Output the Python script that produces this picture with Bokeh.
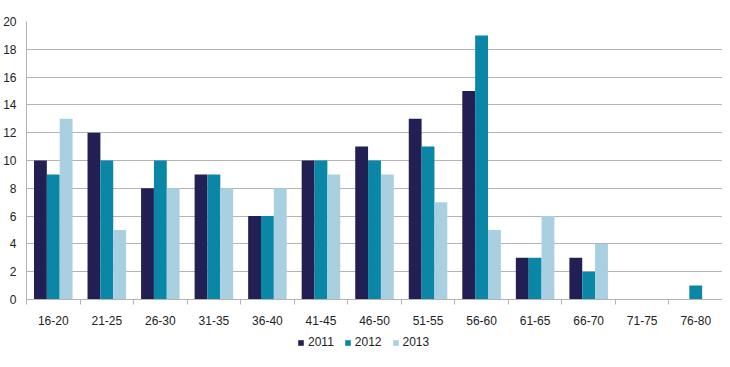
import numpy as np
from bokeh.plotting import figure
from bokeh.layouts import column
from bokeh.models import ColumnDataSource, FixedTicker, Legend, LegendItem, Range1d
from bokeh.transform import dodge
from bokeh.embed import file_html
from bokeh.resources import INLINE

categories = ["16-20", "21-25", "26-30", "31-35", "36-40", "41-45", "46-50",
              "51-55", "56-60", "61-65", "66-70", "71-75", "76-80"]
years = ["2011", "2012", "2013"]
v2011 = [10, 12, 8, 9, 6, 10, 11, 13, 15, 3, 3, 0, 0]
v2012 = [9, 10, 10, 9, 6, 10, 10, 11, 19, 3, 2, 0, 1]
v2013 = [13, 5, 8, 8, 8, 9, 9, 7, 5, 6, 4, 0, 0]
y_ticks = [0, 2, 4, 6, 8, 10, 12, 14, 16, 18, 20]

colors = ["#221f54", "#0a87a7", "#a8d0e1"]
FONT = "Liberation Sans"
TEXT = "#222222"
GRID = "#b4b4b4"

n = len(categories)
centers = np.arange(n) + 0.5
src = ColumnDataSource(dict(x=centers, v2011=v2011, v2012=v2012, v2013=v2013))

p = figure(width=722, height=329, output_backend="svg", toolbar_location=None,
           x_range=Range1d(0, n), y_range=Range1d(0, 20),
           min_border_left=17, min_border_right=0, min_border_top=21,
           min_border_bottom=30)
p.outline_line_color = None
p.background_fill_color = "white"
p.border_fill_color = "white"

bw = 0.24
for i, (yr, col) in enumerate(zip(years, colors)):
    p.vbar(x=dodge("x", (i - 1) * bw), top="v" + yr, width=bw, bottom=0,
           source=src, fill_color=col, line_color=None)

# x axis
xa = p.xaxis[0]
xa.ticker = FixedTicker(ticks=list(centers), minor_ticks=list(np.arange(n + 1)))
xa.major_label_overrides = {float(c): lab for c, lab in zip(centers, categories)}
xa.major_tick_line_color = None
xa.minor_tick_out = 5
xa.minor_tick_in = 0
xa.minor_tick_line_color = GRID
xa.axis_line_color = GRID
xa.major_label_standoff = 10
xa.major_label_text_font = FONT
xa.major_label_text_font_size = "12px"
xa.major_label_text_color = TEXT

ya = p.yaxis[0]
ya.ticker = FixedTicker(ticks=y_ticks)
ya.major_tick_line_color = None
ya.minor_tick_line_color = None
ya.axis_line_color = GRID
ya.major_label_standoff = 4
ya.major_label_text_font = FONT
ya.major_label_text_font_size = "12px"
ya.major_label_text_color = TEXT

p.xgrid.grid_line_color = None
p.ygrid.grid_line_color = GRID
p.ygrid.grid_line_width = 1

# legend strip below the chart (placeholder renderers of zero height)
lg = figure(width=722, height=26, output_backend="svg", toolbar_location=None,
            x_range=Range1d(0, 1), y_range=Range1d(0, 1),
            min_border_left=0, min_border_right=0, min_border_top=0,
            min_border_bottom=0)
lg.axis.visible = False
lg.grid.visible = False
lg.outline_line_color = None
legend_renderers = []
for yr, col in zip(years, colors):
    r = lg.vbar(x=[-5], top=[0], bottom=[0], width=0.1, fill_color=col, line_color=None)
    legend_renderers.append(r)

legend = Legend(items=[LegendItem(label=yr, renderers=[r]) for yr, r in zip(years, legend_renderers)],
                orientation="horizontal", location=(271, 6),
                glyph_width=7, glyph_height=7, label_standoff=4, spacing=10,
                padding=2, margin=0, border_line_color=None,
                background_fill_alpha=0,
                label_text_font=FONT, label_text_font_size="12px",
                label_text_color=TEXT, label_height=12)
lg.add_layout(legend, "center")

layout = column(p, lg, spacing=0)
open("out.html", "w").write(file_html(layout, INLINE))
